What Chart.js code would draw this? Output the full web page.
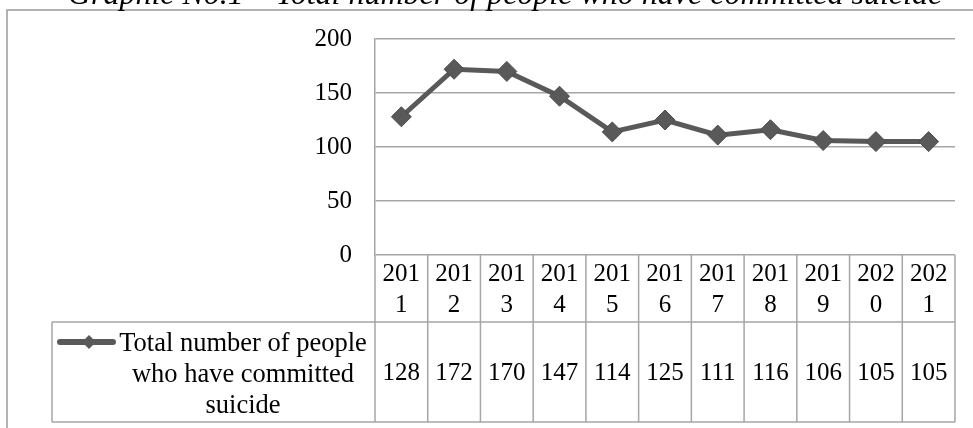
<!DOCTYPE html>
<html>
<head>
<meta charset="utf-8">
<script src="https://cdn.jsdelivr.net/npm/chart.js@4.4.0/dist/chart.umd.min.js"></script>
<style>
  html, body { margin: 0; padding: 0; background: #fff; }
</style>
</head>
<body>
<canvas id="chart" width="973" height="428"></canvas>
<script>
// data
const years = ['2011', '2012', '2013', '2014', '2015', '2016', '2017', '2018', '2019', '2020', '2021'];
const totals = [128, 172, 170, 147, 114, 125, 111, 116, 106, 105, 105];
const yTicks = [0, 50, 100, 150, 200];
const seriesLines = ['Total number of people', 'who have committed', 'suicide'];
const titleText = 'Graphic No.1 \u2013 Total number of people who have committed suicide';

const serif = "'Liberation Serif', 'Times New Roman', serif";
const lineGray = '#595959';
const gridGray = '#a6a6a6';

Chart.defaults.font.family = serif;
Chart.defaults.font.size = 25;
Chart.defaults.color = '#000';

// frame, title and the data table under the plot
const tablePlugin = {
    id: 'tablePlugin',
    afterDraw(chart) {
        const ctx = chart.ctx;
        const x = chart.scales.x;
        const area = chart.chartArea;
        const colW = x.getPixelForValue(1) - x.getPixelForValue(0);
        const midY = 322, botY = 422, legLeft = 52;

        ctx.save();

        // outer frame
        ctx.strokeStyle = '#9a9a9a';
        ctx.lineWidth = 1.5;
        ctx.strokeRect(7, 10, 1200, 600);

        // title (top is cut off in the original)
        ctx.fillStyle = '#000';
        ctx.font = 'italic 32px ' + serif;
        ctx.textAlign = 'center';
        ctx.textBaseline = 'alphabetic';
        ctx.fillText(titleText, 505, 4);

        // table lines
        ctx.strokeStyle = gridGray;
        ctx.lineWidth = 1.5;
        ctx.beginPath();
        for (let i = 0; i <= years.length; i++) {
            const px = x.getPixelForValue(0) - colW / 2 + i * colW;
            ctx.moveTo(px, area.bottom);
            ctx.lineTo(px, botY);
        }
        ctx.moveTo(legLeft, midY); ctx.lineTo(area.right, midY);
        ctx.moveTo(legLeft, botY); ctx.lineTo(area.right, botY);
        ctx.moveTo(legLeft, midY); ctx.lineTo(legLeft, botY);
        ctx.stroke();

        // values row
        ctx.font = '25px ' + serif;
        ctx.textAlign = 'center';
        ctx.textBaseline = 'middle';
        totals.forEach((v, i) => {
            ctx.fillText(String(v), x.getPixelForValue(i), (midY + botY) / 2 + 1);
        });

        // legend cell
        ctx.font = '26.5px ' + serif;
        ctx.textBaseline = 'alphabetic';
        seriesLines.forEach((t, i) => {
            ctx.fillText(t, 243, 351 + i * 31);
        });
        const ly = 342;
        ctx.strokeStyle = lineGray;
        ctx.lineWidth = 6;
        ctx.lineCap = 'round';
        ctx.beginPath();
        ctx.moveTo(60, ly); ctx.lineTo(113, ly);
        ctx.stroke();
        ctx.fillStyle = lineGray;
        ctx.beginPath();
        ctx.moveTo(89 - 7, ly); ctx.lineTo(89, ly - 7); ctx.lineTo(89 + 7, ly); ctx.lineTo(89, ly + 7);
        ctx.closePath();
        ctx.fill();

        ctx.restore();
    }
};

new Chart(document.getElementById('chart'), {
    type: 'line',
    data: {
        labels: years,
        datasets: [{
            label: seriesLines.join(' '),
            data: totals,
            borderColor: lineGray,
            backgroundColor: lineGray,
            borderWidth: 5,
            pointStyle: 'rectRot',
            pointRadius: 10,
            pointBorderWidth: 1,
            pointBorderColor: '#4d4d4d',
            pointBackgroundColor: lineGray,
            tension: 0
        }]
    },
    options: {
        responsive: false,
        animation: false,
        layout: { padding: { left: 0, right: 18, top: 39, bottom: 6 } },
        plugins: {
            legend: { display: false },
            title: { display: false },
            tooltip: { enabled: false }
        },
        scales: {
            x: {
                offset: true,
                grid: { display: false },
                border: { display: false },
                ticks: {
                    autoSkip: false,
                    maxRotation: 0,
                    padding: -4,
                    font: { size: 25, lineHeight: 1.24 },
                    callback: (v, i) => [years[i].slice(0, 3), years[i].slice(3)]
                },
                afterFit: s => { s.height = 167; }
            },
            y: {
                min: 0,
                max: 200,
                afterBuildTicks: s => { s.ticks = yTicks.map(v => ({ value: v })); },
                grid: { color: gridGray, lineWidth: 1.5, drawTicks: false },
                border: { display: true, color: gridGray, width: 1.5 },
                ticks: { padding: 23, font: { size: 25 } },
                afterFit: s => { s.width = 375; }
            }
        }
    },
    plugins: [tablePlugin]
});
</script>
</body>
</html>
